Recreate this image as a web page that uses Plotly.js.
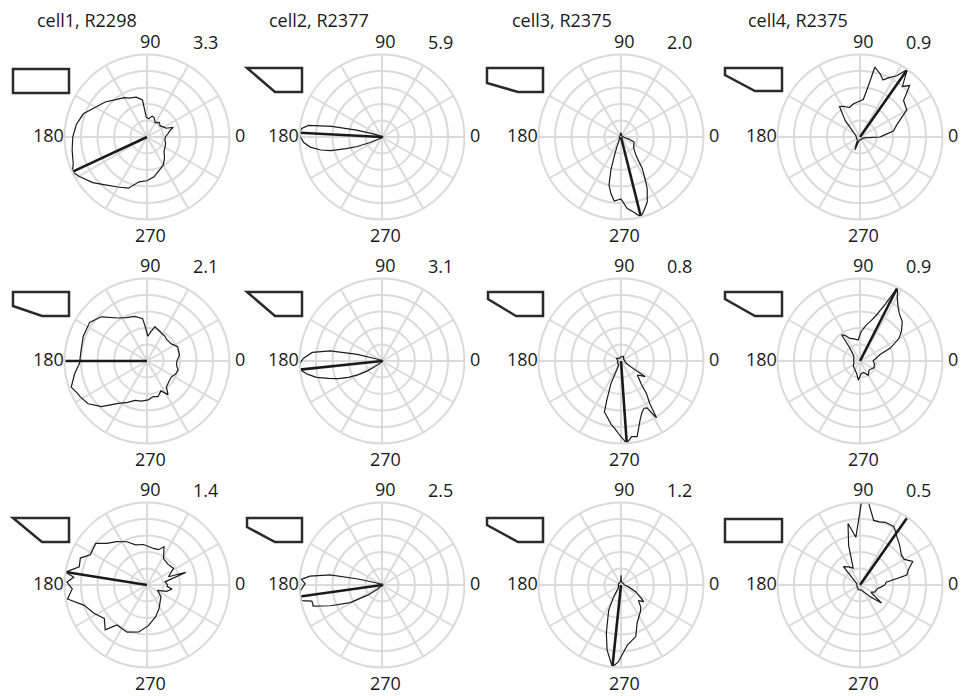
<!DOCTYPE html>
<html>
<head>
<meta charset="utf-8">
<script src="https://cdn.plot.ly/plotly-3.0.1.min.js"></script>
<style>
  html, body { margin: 0; padding: 0; background: #fff; }
  #chart { width: 961px; height: 696px; }
</style>
</head>
<body>
<div id="chart"></div>
<script>
// ---- firing-rate tuning curves (Hz) vs head direction (deg) ----
const cellTitles = ["cell1, R2298", "cell2, R2377", "cell3, R2375", "cell4, R2375"];

// peak rate of each panel (outer ring), row by row
const peakRates = [3.3, 5.9, 2.0, 0.9,
                   2.1, 3.1, 0.8, 0.9,
                   1.4, 2.5, 1.2, 0.5];

// preferred (mean) direction of each panel, deg
const prefDirs = [205, 177, 284, 55,
                  180, 186, 274, 63,
                  171, 188, 264, 55];

// row 1
const r1c1Theta = [0,10,17,20,25,30,40,50,60,70,76,85,92,97,105,115,120,130,140,150,160,170,180,190,200,205,210,220,230,240,250,260,270,280,290,300,310,320,330,340,350];
const r1c1Rate  = [.73,.86,.99,1.12,.83,.79,.69,.76,.66,.83,.86,.73,.79,1.49,1.65,1.72,1.82,1.95,2.18,2.38,2.71,2.87,2.97,3.04,3.14,3.30,3.14,2.84,2.51,2.31,2.18,1.82,1.75,1.62,1.42,1.30,1.09,.89,.83,.79,.73];

const r1c2Theta = [0,30,60,90,120,150,158,162,165,168,171,174,177,180,184,188,192,195,198,201,205,210,215,240,270,300,330];
const r1c2Rate  = [.06,.06,.06,.06,.06,.12,.35,.89,1.89,3.66,5.31,5.78,5.9,5.84,5.61,5.19,4.48,3.78,2.71,1.89,.94,.35,.18,.06,.06,.06,.06];

const r1c3Theta = [0,30,60,90,100,120,150,180,210,230,240,247,250,253,256,260,264,270,275,280,284,288,292,297,300,304,309,315,320,330,339,345,350];
const r1c3Rate  = [.06,.04,.04,.1,.08,.04,.04,.04,.04,.06,.1,.24,.44,.84,1.2,1.4,1.56,1.5,1.74,1.86,2.0,1.84,1.7,1.4,1.16,.92,.58,.46,.4,.36,.34,.2,.1];

const r1c4Theta = [0,5,10,18,25,30,40,46,50,55,59,64,68,72,78,81,85,95,101,110,118,124,132,143,160,180,200,220,235,245,249,253,270,300,330,350];
const r1c4Rate  = [.22,.27,.37,.42,.5,.59,.62,.78,.72,.9,.78,.72,.67,.72,.78,.55,.41,.38,.37,.34,.38,.4,.24,.09,.05,.04,.04,.04,.05,.11,.15,.05,.03,.03,.03,.05];

// row 2
const r2c1Theta = [0,10,25,35,47,55,63,70,77,83,88,93,96,106,115,124,136,146,159,170,182,190,199,205,208,216,225,236,245,253,262,272,280,287,295,302,307,318,327,335,344,352];
const r2c1Rate  = [.76,.84,.86,.76,.74,.78,.80,.84,.9,.74,.63,.88,1.09,1.18,1.22,1.32,1.62,1.76,1.74,1.70,1.72,1.87,2.04,1.95,1.93,1.85,1.64,1.30,1.16,1.05,1.03,.99,.92,.95,.84,1.01,.82,.76,.74,.80,.82,.76];

const r2c2Theta = [0,30,60,90,120,150,160,165,169,173,178,182,186,190,194,198,202,206,210,214,218,222,230,260,300,330];
const r2c2Rate  = [.03,.03,.03,.03,.03,.06,.25,.96,1.98,2.64,2.95,3.1,3.1,2.85,2.54,2.11,1.77,1.40,1.02,.68,.37,.19,.06,.03,.03,.03];

const r2c3Theta = [0,30,60,90,120,150,180,210,235,243,246,250,252,258,261,265,269,274,278,282,288,292,296,299,302,304,308,311,316,319,324,327,329,335,350];
const r2c3Rate  = [.04,.03,.05,.04,.03,.05,.03,.04,.04,.06,.24,.4,.52,.58,.62,.66,.72,.8,.74,.75,.6,.54,.51,.52,.65,.5,.4,.3,.24,.21,.24,.28,.12,.06,.04];

const r2c4Theta = [0,10,18,23,30,36,43,50,54,59,63,66,70,75,80,88,95,105,114,120,125,128,140,170,200,215,240,255,265,275,287,300,315,335,350];
const r2c4Rate  = [.14,.18,.23,.36,.49,.56,.63,.67,.71,.79,.9,.68,.54,.45,.4,.32,.23,.25,.27,.32,.35,.18,.09,.07,.07,.09,.11,.14,.21,.14,.13,.18,.14,.17,.16];

// row 3
const r3c1Theta = [0,10,18,21,32,45,58,66,72,80,95,106,115,125,134,141,152,158,165,171,174,178,183,190,198,208,218,227,233,247,260,272,285,297,310,320,333,342,351,356];
const r3c1Rate  = [.35,.31,.69,.39,.53,.50,.53,.71,.63,.63,.69,.71,.81,.90,.98,1.12,1.09,1.22,1.19,1.4,1.25,1.36,1.27,1.37,1.12,1.02,.92,1.04,.85,.87,.81,.69,.56,.45,.35,.31,.2,.35,.43,.34];

const r3c2Theta = [0,30,60,90,120,150,160,166,169,173,176,179,184,188,191,193,197,202,209,215,222,230,260,300,330];
const r3c2Rate  = [.03,.03,.03,.03,.03,.05,.2,.75,1.6,2.2,2.45,2.33,2.48,2.5,2.48,2.18,2.18,1.68,1.1,.55,.2,.05,.03,.03,.03];

const r3c3Theta = [0,30,60,85,90,95,120,150,180,210,230,238,244,253,258,264,268,276,286,293,306,312,318,324,330,335,345];
const r3c3Rate  = [.05,.04,.04,.05,.14,.05,.04,.04,.04,.04,.06,.2,.41,.73,.97,1.2,1.12,.88,.78,.6,.48,.43,.34,.41,.3,.24,.12];

const r3c4Theta = [0,6,12,18,24,30,36,45,53,60,68,73,78,84,89,95,101,106,112,122,132,140,160,200,250,280,300,312,320,326,335,349,355];
const r3c4Rate  = [.15,.16,.29,.31,.35,.31,.31,.34,.37,.41,.41,.4,.4,.5,.5,.29,.38,.25,.11,.13,.15,.05,.02,.02,.03,.03,.05,.1,.17,.08,.1,.11,.13];

const thetas = [r1c1Theta, r1c2Theta, r1c3Theta, r1c4Theta,
                r2c1Theta, r2c2Theta, r2c3Theta, r2c4Theta,
                r3c1Theta, r3c2Theta, r3c3Theta, r3c4Theta];
const rates  = [r1c1Rate, r1c2Rate, r1c3Rate, r1c4Rate,
                r2c1Rate, r2c2Rate, r2c3Rate, r2c4Rate,
                r3c1Rate, r3c2Rate, r3c3Rate, r3c4Rate];

// ---- page geometry (pixels) ----
const W = 961, H = 696;
const colX = [147, 382, 621, 860];
const rowY = [137, 361, 585];
const RAD = 82.5;
const titleX = [35, 267, 510, 746];
const GRID = '#dadada';
const INK = '#1a1a1a';
const FONT = 'Open Sans, Noto Sans, sans-serif';
const LABEL_SIZE = 18;
const TITLE_SIZE = 18;

// arena outlines drawn beside each panel (pixel outlines)
const arenaOutlines = [
  [[13,69],[69,69],[69,93],[13,93]],
  [[247,68],[302,68],[302,92],[275,92]],
  [[487,68],[543,68],[543,92],[518,92],[487,83]],
  [[725,68],[782,68],[782,91],[755,91],[725,75]],
  [[13,292],[69,292],[69,316],[42,316],[13,306]],
  [[247,292],[302,292],[302,316],[275,316]],
  [[488,292],[543,292],[543,316],[516,316],[488,299]],
  [[725,292],[782,292],[782,316],[755,316],[725,299]],
  [[13,518],[69,518],[69,542],[42,542]],
  [[247,518],[302,518],[302,542],[275,542],[247,527]],
  [[487,518],[543,518],[543,542],[518,542],[487,525]],
  [[725,519],[782,519],[782,542],[725,542]]
];

const px = x => x / W;
const py = y => 1 - y / H;

const data = [];
const layout = {
  width: W, height: H,
  margin: {l: 0, r: 0, t: 0, b: 0},
  paper_bgcolor: '#fff',
  plot_bgcolor: '#fff',
  showlegend: false,
  font: {family: FONT, color: INK, size: LABEL_SIZE},
  annotations: [],
  shapes: []
};

function label(text, x, y) {
  layout.annotations.push({
    text: text, xref: 'paper', yref: 'paper',
    x: px(x), y: py(y), xanchor: 'center', yanchor: 'middle',
    showarrow: false, font: {family: FONT, size: LABEL_SIZE, color: INK}
  });
}

for (let i = 0; i < 12; i++) {
  const row = Math.floor(i / 4), col = i % 4;
  const cx = colX[col], cy = rowY[row];
  const key = i === 0 ? 'polar' : 'polar' + (i + 1);
  const peak = peakRates[i];

  layout[key] = {
    domain: {x: [px(cx - RAD), px(cx + RAD)], y: [py(cy + RAD), py(cy - RAD)]},
    bgcolor: 'rgba(0,0,0,0)',
    radialaxis: {
      range: [0, peak], tickvals: [0.2, 0.4, 0.6, 0.8].map(f => f * peak),
      showticklabels: false, ticks: '', showline: false,
      gridcolor: GRID, gridwidth: 2
    },
    angularaxis: {
      rotation: 0, direction: 'counterclockwise',
      tickmode: 'linear', tick0: 0, dtick: 30,
      showticklabels: false, ticks: '',
      gridcolor: GRID, gridwidth: 2,
      showline: true, linecolor: GRID, linewidth: 2
    }
  };

  // closed tuning curve
  data.push({
    type: 'scatterpolar', subplot: key, mode: 'lines',
    theta: thetas[i].concat([thetas[i][0]]),
    r: rates[i].concat([rates[i][0]]),
    line: {color: INK, width: 1.2},
    hoverinfo: 'skip'
  });
  // preferred-direction vector
  data.push({
    type: 'scatterpolar', subplot: key, mode: 'lines',
    theta: [prefDirs[i], prefDirs[i]],
    r: [0, peak],
    line: {color: INK, width: 2.6},
    hoverinfo: 'skip'
  });

  // direction labels and peak rate
  label('90', cx + 3, cy - 96);
  label('180', cx - 99, cy - 2);
  label('0', cx + 93, cy - 2);
  label('270', cx + 3, cy + 98);
  label(peak.toFixed(1), cx + 58, cy - 95);

  // arena outline
  const pts = arenaOutlines[i];
  const path = pts.map((p, k) => (k ? 'L' : 'M') + px(p[0]).toFixed(5) + ',' + py(p[1]).toFixed(5)).join(' ') + ' Z';
  layout.shapes.push({
    type: 'path', xref: 'paper', yref: 'paper', path: path,
    line: {color: '#2b2b2b', width: 2.5}, fillcolor: 'rgba(0,0,0,0)'
  });
}

// column titles
cellTitles.forEach((t, c) => {
  layout.annotations.push({
    text: t, xref: 'paper', yref: 'paper',
    x: px(titleX[c]), y: py(20), xanchor: 'left', yanchor: 'middle',
    showarrow: false, font: {family: FONT, size: TITLE_SIZE, color: INK}
  });
});

Plotly.newPlot('chart', data, layout, {staticPlot: true, displayModeBar: false});
</script>
</body>
</html>
